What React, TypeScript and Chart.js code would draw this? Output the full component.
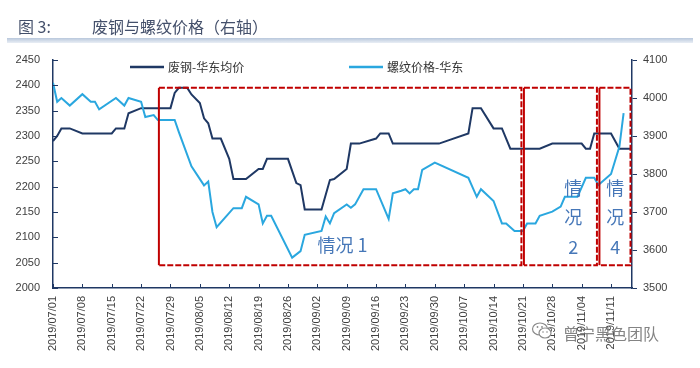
import React, { useEffect, useRef } from 'react';
import { Chart, registerables } from 'chart.js';
Chart.register(...registerables);

const YEAR = 2019;
const AXIS_START = '07/01';
const AXIS_END = '11/16';

const tickLabels = [
  '2019/07/01', '2019/07/08', '2019/07/15', '2019/07/22', '2019/07/29',
  '2019/08/05', '2019/08/12', '2019/08/19', '2019/08/26', '2019/09/02',
  '2019/09/09', '2019/09/16', '2019/09/23', '2019/09/30', '2019/10/07',
  '2019/10/14', '2019/10/21', '2019/10/28', '2019/11/04', '2019/11/11',
];

const scrapName = '废钢-华东均价';
const scrapDates = [
  '07/01', '07/02', '07/03', '07/05', '07/08', '07/15', '07/16', '07/18', '07/19', '07/22',
  '07/29', '07/30', '07/31', '08/02', '08/03', '08/05', '08/06', '08/07', '08/08', '08/10',
  '08/12', '08/13', '08/16', '08/19', '08/20', '08/21', '08/26', '08/28', '08/29', '08/30',
  '09/03', '09/05', '09/06', '09/09', '09/10', '09/12', '09/16', '09/17', '09/19', '09/20',
  '10/01', '10/08', '10/09', '10/11', '10/14', '10/16', '10/18', '10/25', '10/28', '11/04',
  '11/05', '11/06', '11/07', '11/11', '11/13', '11/16',
];
const scrapValues = [
  2290, 2300, 2315, 2315, 2305, 2305, 2315, 2315, 2345, 2355,
  2355, 2385, 2395, 2395, 2382, 2365, 2335, 2325, 2295, 2295,
  2255, 2215, 2215, 2235, 2235, 2255, 2255, 2207, 2203, 2155,
  2155, 2213, 2215, 2235, 2285, 2285, 2295, 2305, 2305, 2285,
  2285, 2305, 2355, 2355, 2315, 2315, 2275, 2275, 2285, 2285,
  2275, 2275, 2305, 2305, 2275, 2275,
];

const rebarName = '螺纹价格-华东';
const rebarDates = [
  '07/01', '07/02', '07/03', '07/05', '07/08', '07/10', '07/11', '07/12', '07/16', '07/18',
  '07/19', '07/22', '07/23', '07/25', '07/26', '07/30', '07/31', '08/03', '08/06', '08/07',
  '08/08', '08/09', '08/13', '08/15', '08/16', '08/19', '08/20', '08/21', '08/22', '08/27',
  '08/29', '08/30', '09/03', '09/04', '09/05', '09/06', '09/09', '09/10', '09/11', '09/13',
  '09/16', '09/19', '09/20', '09/22', '09/23', '09/24', '09/25', '09/26', '09/27', '09/30',
  '10/08', '10/10', '10/11', '10/14', '10/16', '10/17', '10/19', '10/21', '10/22', '10/24',
  '10/25', '10/28', '10/30', '10/31', '11/03', '11/05', '11/07', '11/08', '11/11', '11/13',
  '11/14',
];
const rebarValues = [
  4040, 3990, 4000, 3980, 4010, 3990, 3990, 3970, 4000, 3980,
  4000, 3990, 3950, 3955, 3942, 3942, 3910, 3820, 3770, 3780,
  3700, 3660, 3710, 3710, 3740, 3720, 3670, 3690, 3690, 3580,
  3597, 3640, 3650, 3688, 3670, 3697, 3720, 3711, 3720, 3760,
  3760, 3682, 3749, 3756, 3760, 3749, 3760, 3760, 3811, 3830,
  3790, 3740, 3760, 3729, 3670, 3670, 3650, 3650, 3670, 3670,
  3690, 3701, 3714, 3740, 3740, 3790, 3790, 3771, 3800, 3872,
  3960,
];

const leftMin = 2000, leftMax = 2450, leftStep = 50;
const rightMin = 3500, rightMax = 4100, rightStep = 100;

// case boxes: date ranges and value range on the left axis
const boxStarts = ['07/26', '10/21', '11/08'];
const boxEnds = ['10/21', '11/08', '11/16'];
const boxLow = 2045, boxHigh = 2395;

// case labels (anchored in data units: date, left-axis value)
const caseLabelLines = [['情况 1'], ['情', '况', '2'], ['情', '况', '4']];
const caseLabelDates = ['09/08', '11/02', '11/12'];
const caseLabelValues = [2085, 2197, 2197];
const caseLabelStep = 58; // value units between stacked lines

const NAVY = '#1f3864';
const SKY = '#2aa7df';
const RED = '#c00000';
const TEXT = '#404040';
const CASE_BLUE = '#4677b8';
const CJK = '"Noto Sans CJK SC", "Noto Sans", sans-serif';
const LATIN = '"Liberation Sans", Arial, sans-serif';

const base = Date.UTC(YEAR, 6, 1);
function dayIndex(s: string): number {
  const parts = s.split('/').map(Number);
  const [m, d] = parts.length === 3 ? [parts[1], parts[2]] : [parts[0], parts[1]];
  return (Date.UTC(YEAR, m - 1, d) - base) / 86400000;
}
const tickDays = tickLabels.map(dayIndex);

const overlayPlugin = {
  id: 'overlay',
  afterDatasetsDraw(chart: any) {
    const { ctx, chartArea, scales } = chart;
    const xs = scales.x, yl = scales.yL;
    ctx.save();
    // inward ticks on left and bottom axes
    ctx.strokeStyle = NAVY;
    ctx.lineWidth = 1;
    for (let v = leftMin; v <= leftMax; v += leftStep) {
      const py = Math.round(yl.getPixelForValue(v)) + 0.5;
      ctx.beginPath();
      ctx.moveTo(chartArea.left, py);
      ctx.lineTo(chartArea.left + 5, py);
      ctx.stroke();
    }
    tickDays.forEach((d) => {
      const px = Math.round(xs.getPixelForValue(d)) + 0.5;
      ctx.beginPath();
      ctx.moveTo(px, chartArea.bottom);
      ctx.lineTo(px, chartArea.bottom - 4);
      ctx.stroke();
    });

    // boxes
    const top = yl.getPixelForValue(boxHigh);
    const bot = yl.getPixelForValue(boxLow);
    ctx.strokeStyle = RED;
    ctx.lineWidth = 2;
    boxStarts.forEach((s, i) => {
      const x0 = xs.getPixelForValue(dayIndex(s)) + 1;
      const x1 = xs.getPixelForValue(dayIndex(boxEnds[i])) - 1.5;
      ctx.setLineDash([6, 2]);
      ctx.beginPath();
      ctx.moveTo(x0, top);
      ctx.lineTo(x1, top);
      ctx.lineTo(x1, bot);
      ctx.lineTo(x0, bot);
      ctx.stroke();
      ctx.setLineDash([]);
      ctx.beginPath();
      ctx.moveTo(x0, top);
      ctx.lineTo(x0, bot);
      ctx.stroke();
    });

    // case labels
    ctx.fillStyle = CASE_BLUE;
    ctx.font = `18px ${CJK}`;
    ctx.textAlign = 'center';
    ctx.textBaseline = 'middle';
    caseLabelLines.forEach((lines, i) => {
      const px = xs.getPixelForValue(dayIndex(caseLabelDates[i]));
      lines.forEach((t, j) => {
        const py = yl.getPixelForValue(caseLabelValues[i] - j * caseLabelStep);
        ctx.fillText(t, px, py);
      });
    });

    // legend
    const ly = chartArea.top + 7;
    const items = [
      { name: scrapName, color: NAVY, x: chartArea.left + 77 },
      { name: rebarName, color: SKY, x: chartArea.left + 296 },
    ];
    ctx.textAlign = 'left';
    ctx.font = `12px ${CJK}`;
    items.forEach((it) => {
      ctx.strokeStyle = it.color;
      ctx.lineWidth = 2.5;
      ctx.beginPath();
      ctx.moveTo(it.x, ly);
      ctx.lineTo(it.x + 34, ly);
      ctx.stroke();
      ctx.fillStyle = '#333333';
      ctx.fillText(it.name, it.x + 38, ly + 0.5);
    });
    ctx.restore();
  },
};

export default function App() {
  const ref = useRef<HTMLCanvasElement>(null);
  useEffect(() => {
    document.body.style.margin = '0';
    Chart.defaults.font.family = LATIN;
    const chart = new Chart(ref.current as HTMLCanvasElement, {
      type: 'line',
      data: {
        datasets: [
          {
            label: rebarName,
            data: rebarDates.map((d, i) => ({ x: dayIndex(d), y: rebarValues[i] })),
            borderColor: SKY,
            borderWidth: 2,
            pointRadius: 0,
            tension: 0,
            yAxisID: 'yR',
          },
          {
            label: scrapName,
            data: scrapDates.map((d, i) => ({ x: dayIndex(d), y: scrapValues[i] })),
            borderColor: NAVY,
            borderWidth: 2,
            pointRadius: 0,
            tension: 0,
            yAxisID: 'yL',
          },
        ],
      },
      options: {
        responsive: false,
        animation: false,
        devicePixelRatio: 1,
        layout: { padding: { top: 60, left: 0, right: 0, bottom: 0 } },
        plugins: { legend: { display: false }, tooltip: { enabled: false } },
        scales: {
          x: {
            type: 'linear',
            min: dayIndex(AXIS_START),
            max: dayIndex(AXIS_END),
            afterBuildTicks: (axis: any) => {
              axis.ticks = tickDays.map((v) => ({ value: v }));
            },
            afterFit: (axis: any) => { axis.height = 80; },
            grid: { display: false, drawTicks: false },
            border: { display: true, color: NAVY, width: 1.5 },
            ticks: {
              autoSkip: false,
              minRotation: 90,
              maxRotation: 90,
              padding: 8,
              color: TEXT,
              font: { size: 11, family: LATIN },
              callback: (v: any) => {
                const i = tickDays.indexOf(Number(v));
                return i >= 0 ? tickLabels[i] : null;
              },
            },
          },
          yL: {
            type: 'linear',
            position: 'left',
            min: leftMin,
            max: leftMax,
            afterFit: (axis: any) => { axis.width = 53; },
            grid: { display: false, drawTicks: false },
            border: { display: true, color: NAVY, width: 1.5 },
            ticks: {
              stepSize: leftStep, padding: 13, color: TEXT, font: { size: 11, family: LATIN },
              callback: (v: any) => String(v),
            },
          },
          yR: {
            type: 'linear',
            position: 'right',
            min: rightMin,
            max: rightMax,
            afterFit: (axis: any) => { axis.width = 68; },
            grid: { display: true, drawOnChartArea: false, drawTicks: true, tickLength: 5, color: NAVY },
            border: { display: true, color: NAVY, width: 1.5 },
            ticks: {
              stepSize: rightStep, padding: 6, color: TEXT, font: { size: 11, family: LATIN },
              callback: (v: any) => String(v),
            },
          },
        },
      },
      plugins: [overlayPlugin],
    } as any);
    return () => chart.destroy();
  }, []);

  return (
    <div style={{ position: 'relative', width: 700, height: 368, background: '#ffffff', overflow: 'hidden' }}>
      <canvas ref={ref} width={700} height={368} style={{ position: 'absolute', left: 0, top: 0, width: 700, height: 368 }} />
      <div style={{ position: 'absolute', left: 18, top: 17, font: `16px/18px ${CJK}`, color: '#44506b', whiteSpace: 'nowrap' }}>图 3:</div>
      <div style={{ position: 'absolute', left: 92, top: 17, font: `16px/18px ${CJK}`, color: '#44506b', whiteSpace: 'nowrap' }}>废钢与螺纹价格（右轴）</div>
      <div style={{ position: 'absolute', left: 7, top: 38, width: 686, height: 5, background: 'linear-gradient(to bottom, #b9c8dc, #e9eef5)' }} />
      <svg style={{ position: 'absolute', left: 531, top: 321 }} width={22} height={20} viewBox="0 0 22 20">
        <ellipse cx="9" cy="8" rx="7.5" ry="6" fill="none" stroke="#8a8a8a" strokeWidth="1.2" />
        <ellipse cx="14" cy="12" rx="6" ry="5" fill="#ffffff" stroke="#8a8a8a" strokeWidth="1.2" />
        <circle cx="6.5" cy="6" r="0.9" fill="#8a8a8a" />
        <circle cx="11" cy="6" r="0.9" fill="#8a8a8a" />
        <circle cx="12" cy="11" r="0.8" fill="#8a8a8a" />
        <circle cx="16" cy="11" r="0.8" fill="#8a8a8a" />
      </svg>
      <div style={{ position: 'absolute', left: 563, top: 324, font: `16px/18px ${CJK}`, color: 'rgba(110,110,110,0.85)', whiteSpace: 'nowrap' }}>曾宁黑色团队</div>
    </div>
  );
}
